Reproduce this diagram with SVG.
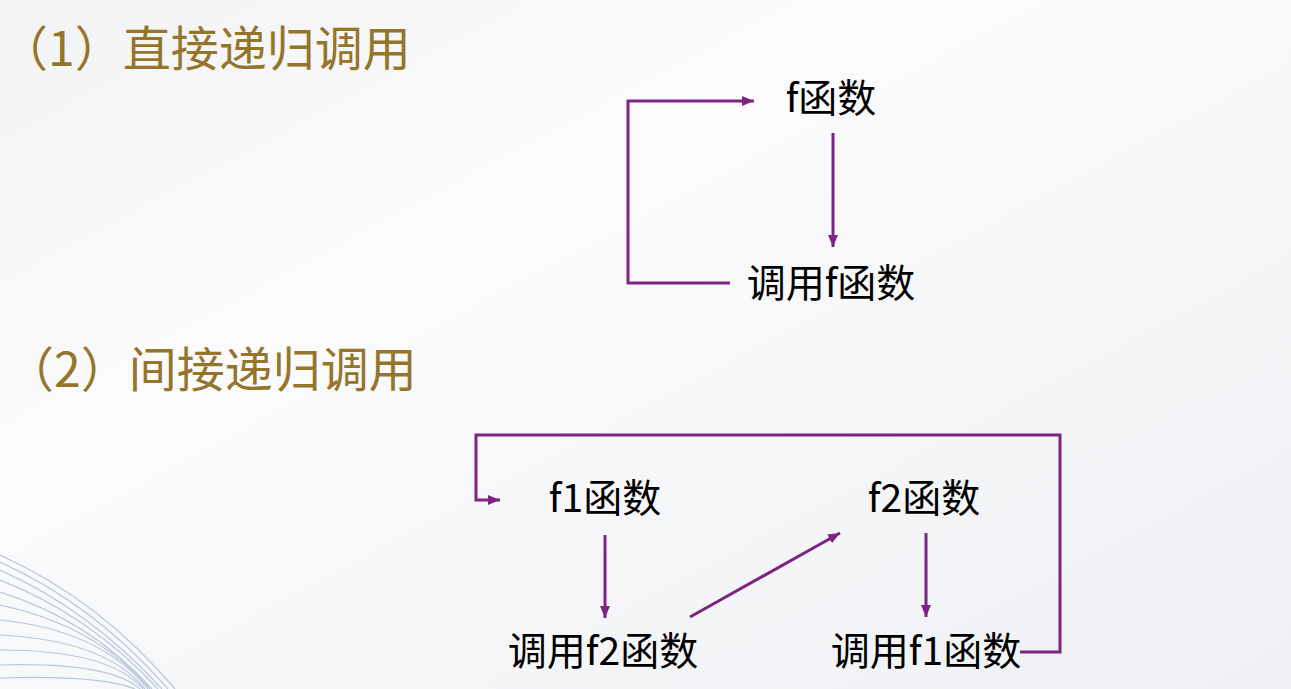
<svg xmlns="http://www.w3.org/2000/svg" width="1291" height="689" viewBox="0 0 1291 689">
<defs>
<linearGradient id="bg" x1="0" y1="0" x2="1" y2="1">
<stop offset="0" stop-color="#f2f3f5"/>
<stop offset="0.35" stop-color="#fbfbfc"/>
<stop offset="1" stop-color="#eef0f3"/>
</linearGradient>
<marker id="ah" viewBox="0 0 12 10" refX="12" refY="5" markerWidth="12" markerHeight="10" markerUnits="userSpaceOnUse" orient="auto">
<path d="M0,0 L12,5 L0,10 Z" fill="#7d2483"/>
</marker>
<style>
.title{font-family:"Noto Sans CJK SC","Noto Sans",sans-serif;font-size:48px;fill:#94752a;}
.node{font-family:"Noto Sans CJK SC","Noto Sans",sans-serif;font-size:39px;fill:#000;}
.conn{fill:none;stroke:#7d2483;stroke-width:3;}
.wave{fill:none;stroke:#b7c7db;stroke-width:1.2;}
</style>
</defs>
<rect width="1291" height="689" fill="url(#bg)"/>
<g id="waves">
<path class="wave" d="M0,555 Q100,600 175,689"/>
<path class="wave" d="M0,562 Q95,605 168,689"/>
<path class="wave" d="M0,570 Q90,610 162,689"/>
<path class="wave" d="M0,580 Q90,615 158,689"/>
<path class="wave" d="M0,592 Q90,620 152,689"/>
<path class="wave" d="M0,605 Q95,625 150,689"/>
<path class="wave" d="M0,620 Q100,630 148,689"/>
<path class="wave" d="M0,635 Q105,640 145,689"/>
<path class="wave" d="M0,650 Q110,650 143,689"/>
<path class="wave" d="M0,665 Q110,662 140,689"/>
<path class="wave" d="M0,678 Q100,675 135,689"/>
</g>
<g id="title1"><text class="title" x="0" y="66">（1）直接递归调用</text></g>
<g id="title2"><text class="title" x="6" y="387">（2）间接递归调用</text></g>
<g id="n-f"><text class="node" x="831" y="112" text-anchor="middle">f函数</text></g>
<g id="n-callf"><text class="node" x="831" y="297" text-anchor="middle">调用f函数</text></g>
<g id="n-f1"><text class="node" x="605" y="512" text-anchor="middle">f1函数</text></g>
<g id="n-f2"><text class="node" x="924" y="512" text-anchor="middle">f2函数</text></g>
<g id="n-callf2"><text class="node" x="603" y="665" text-anchor="middle">调用f2函数</text></g>
<g id="n-callf1"><text class="node" x="926" y="665" text-anchor="middle">调用f1函数</text></g>
<g id="connectors">
<path class="conn" d="M833,133 L833,247" marker-end="url(#ah)"/>
<path class="conn" d="M730,283 L628,283 L628,101 L754,101" marker-end="url(#ah)"/>
<path class="conn" d="M605,535 L605,618" marker-end="url(#ah)"/>
<path class="conn" d="M926,533 L926,617" marker-end="url(#ah)"/>
<path class="conn" d="M690,617 L840,533" marker-end="url(#ah)"/>
<path class="conn" d="M1020,652 L1060,652 L1060,435 L476,435 L476,500 L500,500" marker-end="url(#ah)"/>
</g>
</svg>
